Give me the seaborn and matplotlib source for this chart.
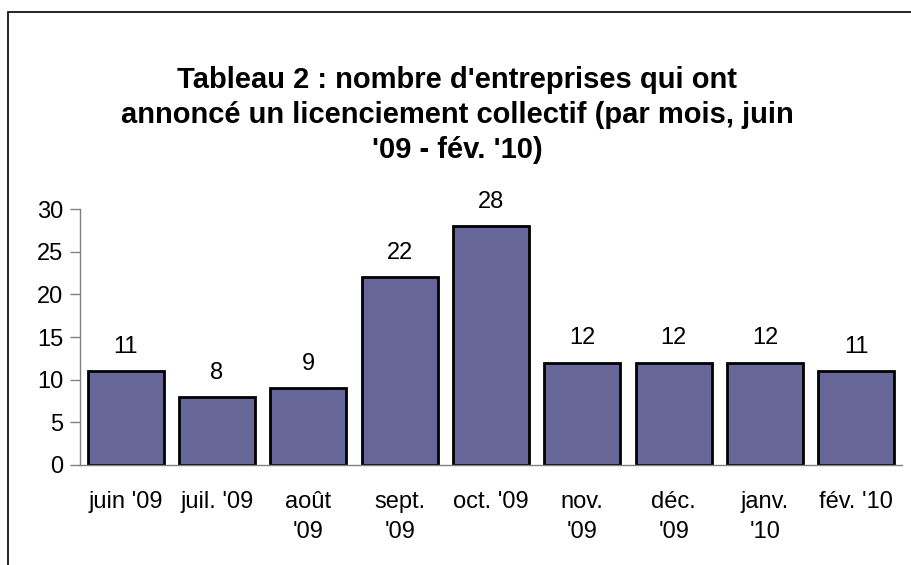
import matplotlib
matplotlib.use('Agg')
import matplotlib.pyplot as plt
import seaborn as sns
import pandas as pd
import numpy as np
from matplotlib.patches import Rectangle

months = ["juin '09", "juil. '09", "août\n'09", "sept.\n'09", "oct. '09",
          "nov.\n'09", "déc.\n'09", "janv.\n'10", "fév. '10"]
companies = [11, 8, 9, 22, 28, 12, 12, 12, 11]

sns.set_style('white')
plt.rcParams['font.family'] = ['Liberation Sans', 'DejaVu Sans']
plt.rcParams['text.color'] = 'black'
plt.rcParams['xtick.color'] = 'black'
plt.rcParams['ytick.color'] = 'black'

df = pd.DataFrame({'mois': months, 'nombre': companies})

fig = plt.figure(figsize=(9.12, 5.65), dpi=100)
ax = fig.add_axes([0.0877, 0.177, 0.9013, 0.453])

sns.barplot(x='mois', y='nombre', data=df, ax=ax, color='#666699',
            saturation=1, width=0.83, edgecolor='black', linewidth=2)

for i, v in enumerate(companies):
    ax.annotate(str(v), (i, v), xytext=(0, 9.5), textcoords='offset points',
                ha='center', va='bottom', fontsize=17)

ax.set_ylim(0, 30)
ax.set_xlim(-0.5, len(months) - 0.5)
ax.set_yticks(range(0, 31, 5))
ax.set_xlabel('')
ax.set_ylabel('')
ax.set_xticks(np.arange(len(months)))
ax.set_xticklabels(months, fontsize=17, linespacing=1.45)
ax.set_xticks(np.arange(-0.5, len(months)), minor=True)
ax.tick_params(axis='x', which='major', length=0, pad=19)
ax.tick_params(axis='x', which='minor', length=5, width=1, color='#808080', direction='out')
ax.tick_params(axis='y', labelsize=17, length=7, width=1, color='#808080', direction='out', left=True, pad=5)
for s in ['top', 'right']:
    ax.spines[s].set_visible(False)
for s in ['left', 'bottom']:
    ax.spines[s].set_color('#808080')
    ax.spines[s].set_linewidth(1)

fig.text(0.501, 0.797, "Tableau 2 : nombre d'entreprises qui ont\n"
         "annoncé un licenciement collectif (par mois, juin\n'09 - fév. '10)",
         ha='center', va='center', fontsize=21, fontweight='bold', linespacing=1.32)

fig.patches.append(Rectangle((8 / 912, -0.05), 1.1, 0.979 + 0.05, transform=fig.transFigure,
                             fill=False, edgecolor='black', linewidth=1.2))

fig.savefig('out.png', dpi=100)
